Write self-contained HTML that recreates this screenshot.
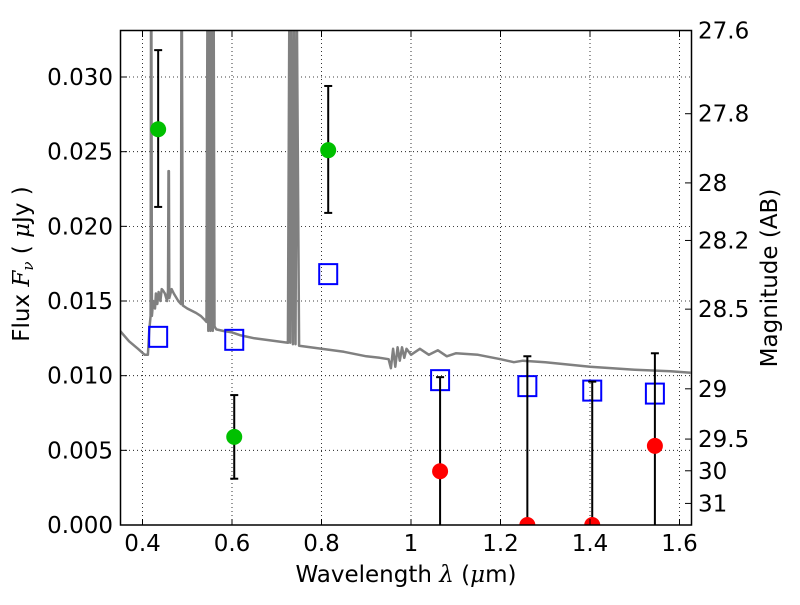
<!DOCTYPE html>
<html><head><meta charset="utf-8"><style>
body{margin:0;background:#fff}
svg{font-family:"DejaVu Sans","Liberation Sans",sans-serif}
</style></head><body>
<svg id="chart" width="800" height="600" xmlns="http://www.w3.org/2000/svg">
<defs><clipPath id="pc"><rect x="121" y="31" width="570" height="494"/></clipPath></defs>
<g id="grid"></g>
<g id="spec" clip-path="url(#pc)"></g>
<g id="marks" clip-path="url(#pc)"></g>
<rect x="120.5" y="30.5" width="571" height="494.5" fill="none" stroke="#000" stroke-width="1.5"/>
<g id="axes"></g>
<text x="406" y="582" font-size="23" text-anchor="middle">Wavelength  <tspan font-style="italic" font-family="DejaVu Serif,serif">λ</tspan> (<tspan font-style="italic" font-family="DejaVu Serif,serif">μ</tspan>m)</text>
<text transform="translate(29,264) rotate(-90)" font-size="23" text-anchor="middle">Flux  <tspan font-style="italic" font-family="DejaVu Serif,serif">F<tspan font-size="15" dy="4">ν</tspan></tspan><tspan dy="-4">  ( </tspan><tspan font-style="italic" font-family="DejaVu Serif,serif">μ</tspan>Jy )</text>
<text transform="translate(777,278) rotate(-90)" font-size="23" text-anchor="middle">Magnitude (AB)</text>
</svg>
<script>
const xTicks=[0.4,0.6,0.8,1.0,1.2,1.4,1.6];
const xTickLabels=["0.4","0.6","0.8","1","1.2","1.4","1.6"];
const yTicks=[0,0.005,0.010,0.015,0.020,0.025,0.030];
const yTickLabels=["0.000","0.005","0.010","0.015","0.020","0.025","0.030"];
const magTicks=[27.6,27.8,28,28.2,28.5,29,29.5,30,31];
const magTickLabels=["27.6","27.8","28","28.2","28.5","29","29.5","30","31"];
const obsLambda=[0.435,0.605,0.815,1.065,1.26,1.405,1.545];
const obsFlux=[0.0265,0.0059,0.0251,0.0036,0.0,0.0,0.0053];
const obsLo=[0.0213,0.0031,0.0209,0,0,0,0];
const obsHi=[0.0318,0.0087,0.0294,0.0099,0.0113,0.0096,0.0115];
const obsDetected=[true,true,true,false,false,false,false];
const modelFlux=[0.0126,0.0124,0.0168,0.0097,0.0093,0.0090,0.0088];
const specLambda=[0.35,0.37,0.39,0.405,0.412,0.415,0.418,0.419,0.42,0.421,0.424,0.428,0.43,0.433,0.436,0.44,0.443,0.446,0.45,0.455,0.457,0.458,0.459,0.46,0.465,0.47,0.48,0.486,0.487,0.488,0.49,0.5,0.52,0.53,0.54,0.543,0.545,0.547,0.55,0.552,0.555,0.557,0.559,0.561,0.565,0.58,0.6,0.62,0.65,0.7,0.725,0.728,0.73,0.733,0.736,0.739,0.742,0.745,0.75,0.8,0.85,0.9,0.93,0.95,0.955,0.96,0.965,0.97,0.975,0.98,0.985,0.99,1.0,1.02,1.04,1.06,1.08,1.1,1.15,1.2,1.23,1.25,1.3,1.4,1.5,1.58,1.625];
const specFlux=[0.0130,0.0123,0.0118,0.0114,0.0114,0.0130,0.0140,0.034,0.034,0.0140,0.0150,0.0145,0.0155,0.0148,0.0156,0.0150,0.0158,0.0157,0.0155,0.0150,0.0157,0.0237,0.0237,0.0152,0.0158,0.0155,0.0150,0.0148,0.034,0.034,0.0147,0.0145,0.0142,0.0140,0.0137,0.0136,0.034,0.013,0.034,0.013,0.034,0.013,0.034,0.0133,0.0131,0.0130,0.0129,0.0127,0.0125,0.0123,0.0122,0.034,0.0122,0.034,0.0121,0.034,0.0121,0.034,0.0120,0.0118,0.0116,0.0113,0.0112,0.0111,0.0105,0.0118,0.0106,0.0119,0.0110,0.0119,0.0112,0.0118,0.0114,0.0118,0.0114,0.0117,0.0113,0.0115,0.0114,0.0111,0.0109,0.0110,0.0109,0.0106,0.0104,0.0103,0.0102];
const X=l=>142.5+(l-0.4)*447.5;
const Y=f=>525-f*14933;
const M=m=>Y(Math.pow(10,(23.9-m)/2.5));
const NS="http://www.w3.org/2000/svg";
function mk(tag,attrs,parent,text){const e=document.createElementNS(NS,tag);for(const k in attrs)e.setAttribute(k,attrs[k]);if(text!==undefined)e.textContent=text;parent.appendChild(e);return e;}
const grid=document.getElementById('grid'),axes=document.getElementById('axes'),spec=document.getElementById('spec'),marks=document.getElementById('marks');
xTicks.forEach((t,i)=>{const x=X(t);
 const g=mk('line',{x1:x,x2:x,y1:31,y2:524,stroke:'#000','stroke-width':0.8,'stroke-dasharray':'1,3'},grid);
 
 mk('line',{x1:x,x2:x,y1:525,y2:519,stroke:'#000'},axes);mk('line',{x1:x,x2:x,y1:31,y2:37,stroke:'#000'},axes);
 const l=mk('text',{x:x,y:551,'font-size':23,'text-anchor':'middle'},axes,xTickLabels[i]);
 });
yTicks.forEach((t,i)=>{const y=Y(t);
 if(t>0){const g=mk('line',{x1:121,x2:691,y1:y,y2:y,stroke:'#000','stroke-width':0.8,'stroke-dasharray':'1,3'},grid);
 }
 mk('line',{x1:121,x2:127,y1:y,y2:y,stroke:'#000'},axes);
 const l=mk('text',{x:113,y:y+8,'font-size':23,'text-anchor':'end'},axes,yTickLabels[i]);
 });
magTicks.forEach((m,i)=>{const y=M(m);
 mk('line',{x1:691,x2:685,y1:y,y2:y,stroke:'#000'},axes);
 const l=mk('text',{x:698,y:y+8,'font-size':23},axes,magTickLabels[i]);
 });
const pts=specLambda.map((l,i)=>X(l).toFixed(1)+','+Y(specFlux[i]).toFixed(1)).join(' ');
const pl=mk('polyline',{points:pts,fill:'none',stroke:'#808080','stroke-width':2.5,'stroke-linejoin':'round'},spec);

obsLambda.forEach((l,i)=>{const x=X(l);
 const sq=mk('rect',{x:x-9,y:Y(modelFlux[i])-10,width:18,height:20,fill:'none',stroke:'#0000ff','stroke-width':2},marks);
 
 const eb=mk('g',{stroke:'#000','stroke-width':2},marks);
 
 mk('line',{x1:x,x2:x,y1:Y(obsLo[i]),y2:Y(obsHi[i])},eb);
 mk('line',{x1:x-4,x2:x+4,y1:Y(obsHi[i]),y2:Y(obsHi[i])},eb);
 if(obsLo[i]>0)mk('line',{x1:x-4,x2:x+4,y1:Y(obsLo[i]),y2:Y(obsLo[i])},eb);
 const c=mk('ellipse',{cx:x,cy:Y(obsFlux[i]),rx:8,ry:8,fill:obsDetected[i]?'#00c000':'#ff0000'},marks);
 });
</script>
</body></html>
